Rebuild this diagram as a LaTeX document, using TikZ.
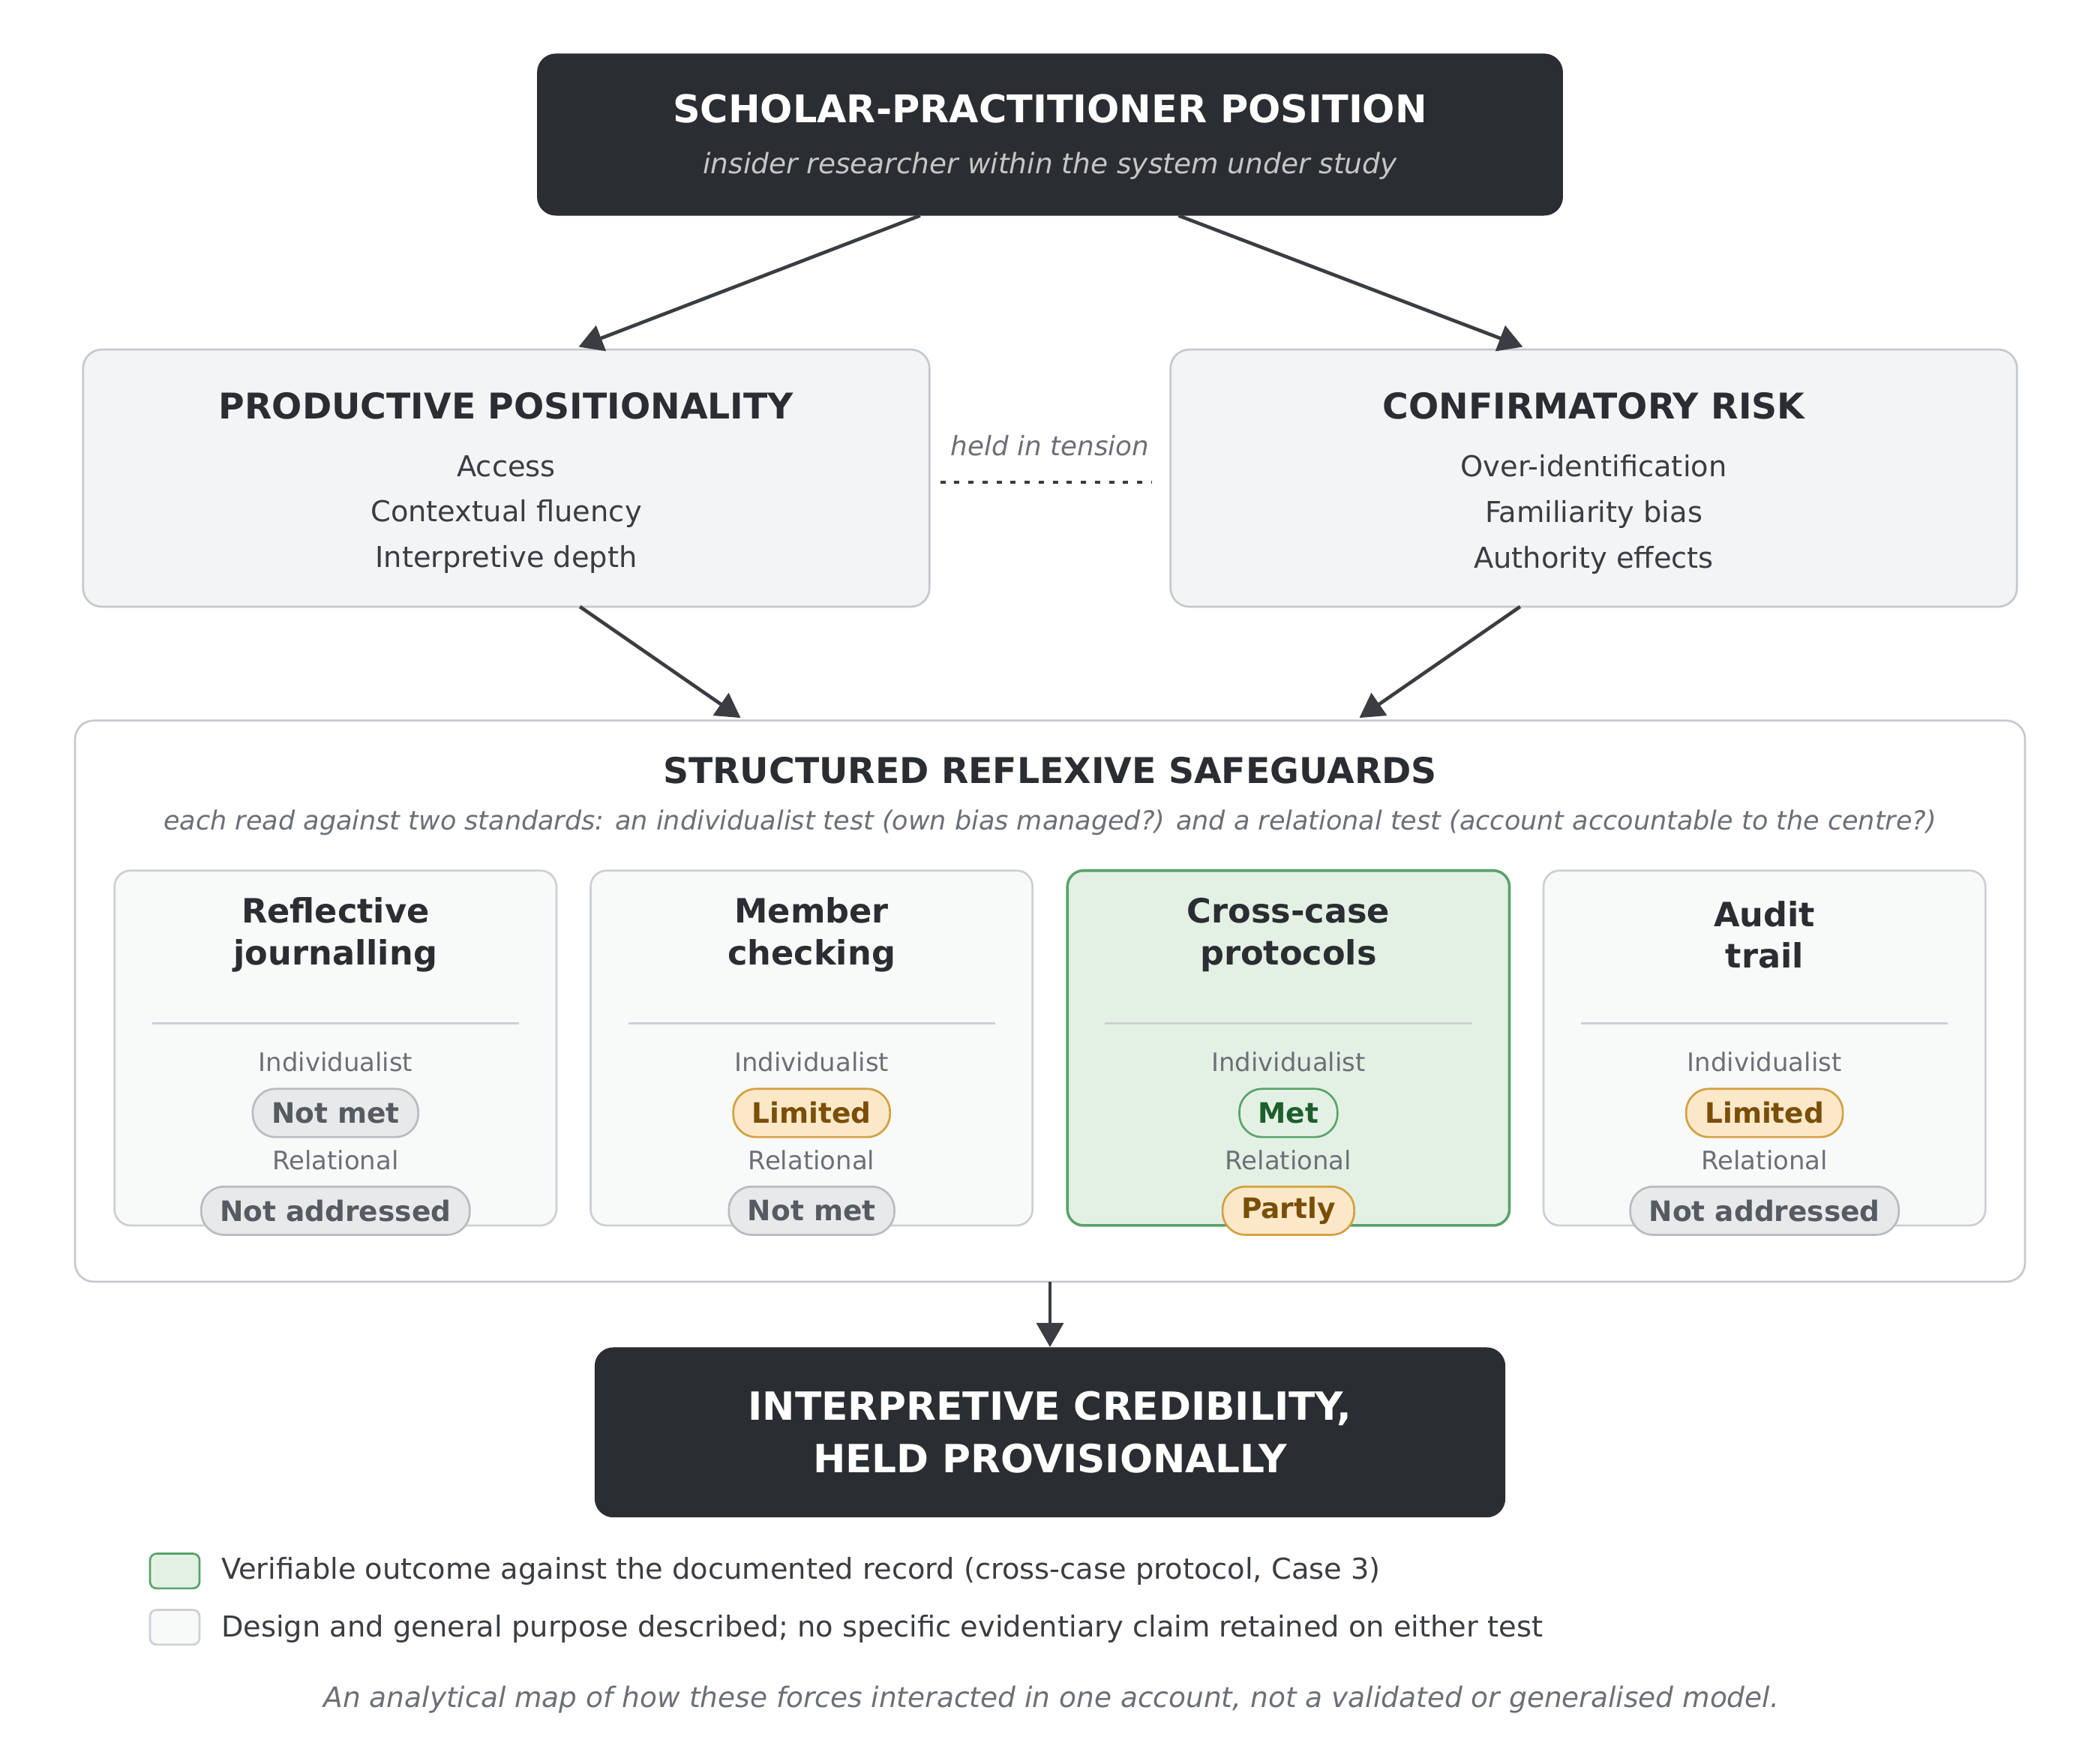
\documentclass[tikz,border=0pt]{standalone}
\usepackage{fontspec}
\setmainfont{DejaVu Sans}
\usetikzlibrary{arrows.meta}
\definecolor{dark}{HTML}{2A2D31}
\definecolor{panel}{HTML}{F3F4F6}
\definecolor{pborder}{HTML}{C5C9CE}
\definecolor{card}{HTML}{F8F9F9}
\definecolor{cborder}{HTML}{CCD0D4}
\definecolor{gfill}{HTML}{E3F1E5}
\definecolor{gborder}{HTML}{5AA36A}
\definecolor{gtext}{HTML}{1E5E2C}
\definecolor{lfill}{HTML}{FBE8C8}
\definecolor{lborder}{HTML}{D4A040}
\definecolor{ltext}{HTML}{7A4E08}
\definecolor{nfill}{HTML}{E8E9EB}
\definecolor{nborder}{HTML}{B8BCC1}
\definecolor{ntext}{HTML}{555B61}
\definecolor{txt}{HTML}{3A3D42}
\definecolor{muted}{HTML}{6B7077}
\definecolor{arr}{HTML}{3A3D42}
\tikzset{
  x=1pt,y=-1pt,
  arrow/.style={draw=arr,line width=2.6pt,-{Triangle[length=18pt,width=20pt]}},
  pill/.style={rounded corners=17pt,minimum height=36pt,line width=1.5pt,font=\fontsize{21}{24}\selectfont\bfseries,inner xsep=14pt},
  notmet/.style={pill,fill=nfill,draw=nborder,text=ntext},
  limited/.style={pill,fill=lfill,draw=lborder,text=ltext},
  met/.style={pill,fill=gfill,draw=gborder,text=gtext},
  lab/.style={font=\fontsize{19}{22}\selectfont,text=muted},
  ctitle/.style={font=\fontsize{25}{31}\selectfont\bfseries,text=dark,align=center},
}
\begin{document}
\begin{tikzpicture}
\useasboundingbox (0,0) rectangle (1568,1317);
% top
\node[draw=none,fill=dark,rounded corners=14pt,minimum width=766pt,minimum height=121pt] (top) at (784,100.5) {};
\node[text=white,font=\fontsize{28.5}{32}\selectfont\bfseries] (topt) at (784,81) {SCHOLAR-PRACTITIONER POSITION};
\node[text=gray!45,font=\fontsize{21}{24}\selectfont\itshape] (tops) at (784,124) {insider researcher within the system under study};
% panels
\node[fill=panel,draw=pborder,line width=1.5pt,rounded corners=14pt,minimum width=632pt,minimum height=192pt] (L) at (378,357) {};
\node[fill=panel,draw=pborder,line width=1.5pt,rounded corners=14pt,minimum width=632pt,minimum height=192pt] (R) at (1190,357) {};
\node[text=dark,font=\fontsize{26.5}{30}\selectfont\bfseries] (Lt) at (378,303) {PRODUCTIVE POSITIONALITY};
\node[text=txt,align=center,font=\fontsize{21.5}{34}\selectfont] (Li) at (378,384) {Access\\Contextual fluency\\Interpretive depth};
\node[text=dark,font=\fontsize{26.5}{30}\selectfont\bfseries] (Rt) at (1190,303) {CONFIRMATORY RISK};
\node[text=txt,align=center,font=\fontsize{21.5}{34}\selectfont] (Ri) at (1190,384) {Over-identification\\Familiarity bias\\Authority effects};
\node[text=muted,font=\fontsize{20}{24}\selectfont\itshape] (ht) at (784,333) {held in tension};
\coordinate (d1) at (702,360); \coordinate (d2) at (860,360);
\draw[arr,line width=2.6pt,dash pattern=on 4pt off 6.5pt] (d1) -- (d2);
\coordinate (a1) at (687,161); \coordinate (a2) at (432,259);
\coordinate (b1) at (880,161); \coordinate (b2) at (1137,259);
\draw[arrow] (a1) -- (a2);
\draw[arrow] (b1) -- (b2);
% container
\node[fill=white,draw=pborder,line width=1.5pt,rounded corners=14pt,minimum width=1456pt,minimum height=419pt] (C) at (784,747.5) {};
\coordinate (c1) at (433,453); \coordinate (c2) at (553,536);
\coordinate (e1) at (1135,453); \coordinate (e2) at (1015,536);
\draw[arrow] (c1) -- (c2);
\draw[arrow] (e1) -- (e2);
\node[text=dark,font=\fontsize{26.5}{30}\selectfont\bfseries] (Ct) at (784,575) {STRUCTURED REFLEXIVE SAFEGUARDS};
\node[text=muted,font=\fontsize{19.6}{24}\selectfont\itshape] (Cs) at (784,614) {each read against two standards: an individualist test (own bias managed?) and a relational test (account accountable to the centre?)};
% cards
\foreach \cx/\nm/\ti/\fa/\fb/\ta/\tb/\green in {
  250.5/k1/{Reflective\\journalling}/notmet/notmet/Not met/Not addressed/0,
  606/k2/{Member\\checking}/limited/notmet/Limited/Not met/0,
  962/k3/{Cross-case\\protocols}/met/limited/Met/Partly/1,
  1317.5/k4/{Audit\\trail}/limited/notmet/Limited/Not addressed/0}{
  \ifnum\green=1
    \node[fill=gfill,draw=gborder,line width=2pt,rounded corners=12pt,minimum width=330pt,minimum height=265pt] (\nm) at (\cx,782.5) {};
  \else
    \node[fill=card,draw=cborder,line width=1.5pt,rounded corners=12pt,minimum width=330pt,minimum height=265pt] (\nm) at (\cx,782.5) {};
  \fi
  \node[ctitle] (\nm t) at (\cx,698) {\ti};
  \coordinate (\nm l) at (\cx-137,764); \coordinate (\nm r) at (\cx+137,764);
  \draw[cborder,line width=1.5pt] (\nm l) -- (\nm r);
  \node[lab] (\nm i) at (\cx,793) {Individualist};
  \node[\fa] (\nm a) at (\cx,831) {\ta};
  \node[lab] (\nm r2) at (\cx,866) {Relational};
  \node[\fb] (\nm b) at (\cx,904) {\tb};
}
% bottom
\node[fill=dark,rounded corners=14pt,minimum width=680pt,minimum height=127pt,text=white,align=center,font=\fontsize{29}{39}\selectfont\bfseries] (B) at (784,1069.5) {INTERPRETIVE CREDIBILITY,\\HELD PROVISIONALLY};
\coordinate (f1) at (784,957);
\draw[arrow] (f1) -- (B.north);
% legend
\node[fill=gfill,draw=gborder,line width=1.5pt,rounded corners=5pt,minimum width=37pt,minimum height=26pt] (g1) at (130.5,1173) {};
\node[fill=card,draw=cborder,line width=1.5pt,rounded corners=5pt,minimum width=37pt,minimum height=26pt] (g2) at (130.5,1215) {};
\node[anchor=west,text=txt,font=\fontsize{21.5}{24}\selectfont,inner sep=0pt] (g1t) at (165,1173) {Verifiable outcome against the documented record (cross-case protocol, Case 3)};
\node[anchor=west,text=txt,font=\fontsize{21.5}{24}\selectfont,inner sep=0pt] (g2t) at (165,1216) {Design and general purpose described; no specific evidentiary claim retained on either test};
\node[text=muted,font=\fontsize{21}{24}\selectfont\itshape] (fn) at (785,1269) {An analytical map of how these forces interacted in one account, not a validated or generalised model.};
\end{tikzpicture}
\end{document}
